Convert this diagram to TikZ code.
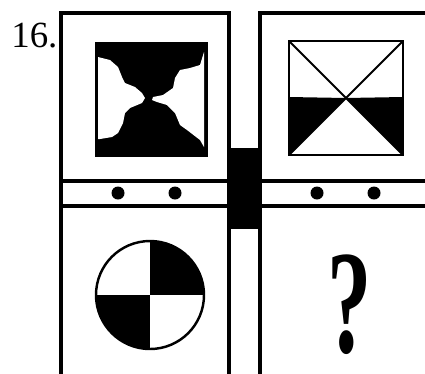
\documentclass[tikz,border=0pt]{standalone}
\usepackage{fontspec}
\setmainfont{Liberation Serif}

\begin{document}
\begin{tikzpicture}[
  x=0.02cm, y=-0.02cm,
  frame/.style ={draw=black, line width=1.8pt},
  box/.style   ={draw=black, line width=1.4pt},
  cross/.style ={draw=black, line width=1.1pt},
  dot/.style   ={fill=black},
  numlbl/.style={font=\fontsize{21}{21}\selectfont, inner sep=0pt, anchor=base west},
  qmark/.style ={font=\fontsize{84}{84}\selectfont\bfseries, inner sep=0pt,
                 text depth=0pt, anchor=base, xscale=0.6}
]
\useasboundingbox (0,0) rectangle (425,373);

% =================== LABEL ===================
\node[numlbl] (num) at (11,47) {16.};

% =================== PANELS ===================
\draw[frame] (61,380) -- (61,13) -- (229,13) -- (229,380);
\draw[frame] (61,181) -- (229,181);
\draw[frame] (61,206) -- (229,206);

\draw[frame] (260,380) -- (260,13) -- (430,13);
\draw[frame] (260,181) -- (430,181);
\draw[frame] (260,206) -- (430,206);

% middle bar
\fill (229,148) rectangle (260,229);

% dots in the strips
\foreach \x in {118,175,317,374}
  \fill[dot] (\x,193) circle (6.5);

% =================== TOP LEFT: hourglass ===================
\fill (95,42) rectangle (208,157);
\fill[white] (98,57) -- (110,60) -- (118,67) -- (122,77) -- (125,83) -- (135,87)
  -- (142,93) -- (145,98) -- (142,103) -- (130,108) -- (125,113) -- (123,123)
  -- (118,133) -- (112,137) -- (100,139) -- (98,139) -- cycle;
\fill[white] (204,52) -- (200,65) -- (190,68) -- (180,70) -- (175,78) -- (173,88)
  -- (163,95) -- (153,97) -- (152,100) -- (157,102) -- (167,105) -- (175,113)
  -- (180,125) -- (187,130) -- (200,140) -- (204,147) -- cycle;

% =================== TOP RIGHT: crossed square ===================
\fill (289,97) -- (346,98) -- (289,155) -- cycle;
\fill (403,97) -- (346,98) -- (403,155) -- cycle;
\draw[box] (289,41) rectangle (403,155);
\draw[cross] (289,41) -- (403,155);
\draw[cross] (403,41) -- (289,155);

% =================== BOTTOM LEFT: circle ===================
\begin{scope}
  \clip (150,295) circle (54);
  \fill (150,295) rectangle (210,235);
  \fill (150,295) rectangle (90,355);
\end{scope}
\draw[box] (150,295) circle (54);

% =================== BOTTOM RIGHT: question ===================
\node[qmark] (qm) at (350,352) {?};

\end{tikzpicture}
\end{document}
